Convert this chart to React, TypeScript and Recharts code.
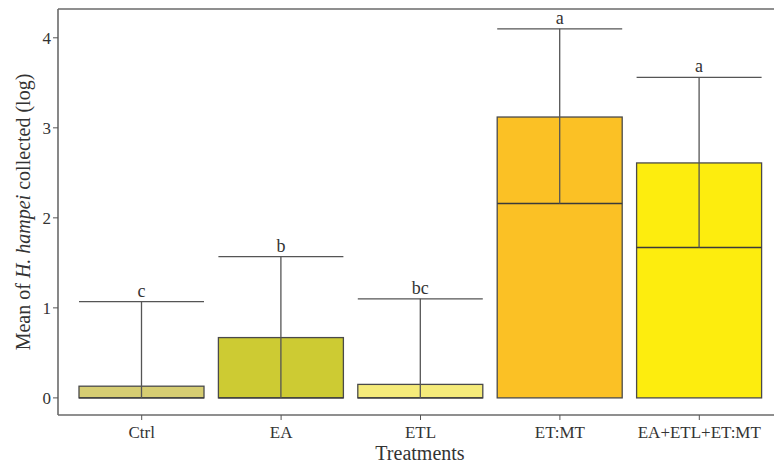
import React from 'react'
import {
    ComposedChart,
    Bar,
    XAxis,
    YAxis,
    ReferenceLine
} from 'recharts'

// treatments and summary values (log scale)
const categories = ['Ctrl', 'EA', 'ETL', 'ET:MT', 'EA+ETL+ET:MT']
const boxLower = [0, 0, 0, 0, 0]
const boxUpper = [0.13, 0.67, 0.15, 3.12, 2.61]
const medians = [0, 0, 0, 2.16, 1.67]
const whiskerTop = [1.07, 1.57, 1.1, 4.1, 3.56]
const groupLetters = ['c', 'b', 'bc', 'a', 'a']
const boxColors = ['#d6cd72', '#cdcb33', '#f5eb7a', '#fbc125', '#fded0e']

const yTicks = [0, 1, 2, 3, 4]
const yDomain = [-0.19, 4.32]

const FONT = '"Liberation Serif", "Times New Roman", serif'
const LINE = '#555555'

const data = categories.map((name, i) => ({
    name,
    box: [boxLower[i], boxUpper[i]],
    lower: boxLower[i],
    upper: boxUpper[i],
    median: medians[i],
    whisker: whiskerTop[i],
    letter: groupLetters[i],
    fill: boxColors[i]
}))

// box + median + upper whisker + letter, positioned from the bar geometry
const BoxShape = (props: any) => {
    const { x, y, width, height, payload } = props
    const span = payload.upper - payload.lower
    const ppu = height / span
    const base = y + height
    const toY = (v: number) => base - (v - payload.lower) * ppu
    const medY = toY(payload.median)
    const capY = toY(payload.whisker)
    const cx = x + width / 2
    return (
        <g>
            <rect x={x} y={y} width={width} height={height} fill={payload.fill} stroke="#4a4a4a" strokeWidth={1.3} />
            <line x1={x} x2={x + width} y1={medY} y2={medY} stroke="#3a3a3a" strokeWidth={1.4} />
            <line x1={cx} x2={cx} y1={medY} y2={capY} stroke={LINE} strokeWidth={1.3} />
            <line x1={x} x2={x + width} y1={capY} y2={capY} stroke={LINE} strokeWidth={1.3} />
            <text x={cx} y={capY - 5} textAnchor="middle" fontFamily={FONT} fontSize={18} fill="#333">
                {payload.letter}
            </text>
        </g>
    )
}

export default function App() {
    return (
        <div style={{ position: 'absolute', left: 0, top: 0, width: 774, height: 463, overflow: 'hidden', background: '#fff' }}>
            <ComposedChart
                width={774}
                height={463}
                data={data}
                margin={{ top: 9, right: -9, bottom: 0, left: 0 }}
            >
                <XAxis
                    dataKey="name"
                    height={48}
                    padding={{ left: 14, right: 14 }}
                    axisLine={{ stroke: '#6a6a6a', strokeWidth: 1.6 }}
                    tickLine={{ stroke: LINE }}
                    tickSize={5}
                    tickMargin={6}
                    tick={{ fill: '#333', fontFamily: FONT, fontSize: 17 }}
                    interval={0}
                />
                <YAxis
                    type="number"
                    domain={yDomain}
                    ticks={yTicks}
                    width={58}
                    allowDataOverflow
                    axisLine={{ stroke: '#6a6a6a', strokeWidth: 1.6 }}
                    tickLine={{ stroke: LINE }}
                    tickSize={5}
                    tick={{ fill: '#333', fontFamily: FONT, fontSize: 17 }}
                />
                <ReferenceLine y={yDomain[1]} stroke="#6a6a6a" strokeWidth={1.6} />
                <Bar dataKey="box" barSize={125} shape={<BoxShape />} isAnimationActive={false} />
            </ComposedChart>
            {/* axis titles */}
            <svg width={774} height={463} style={{ position: 'absolute', left: 0, top: 0, pointerEvents: 'none' }}>
                <text
                    x={23}
                    y={212}
                    transform="rotate(-90, 23, 212)"
                    textAnchor="middle"
                    dominantBaseline="central"
                    fontFamily={FONT}
                    fontSize={20}
                    fill="#333"
                >
                    Mean of <tspan fontStyle="italic">H. hampei</tspan> collected (log)
                </text>
                <text x={420} y={460} textAnchor="middle" fontFamily={FONT} fontSize={20} fill="#333">
                    Treatments
                </text>
            </svg>
        </div>
    )
}
